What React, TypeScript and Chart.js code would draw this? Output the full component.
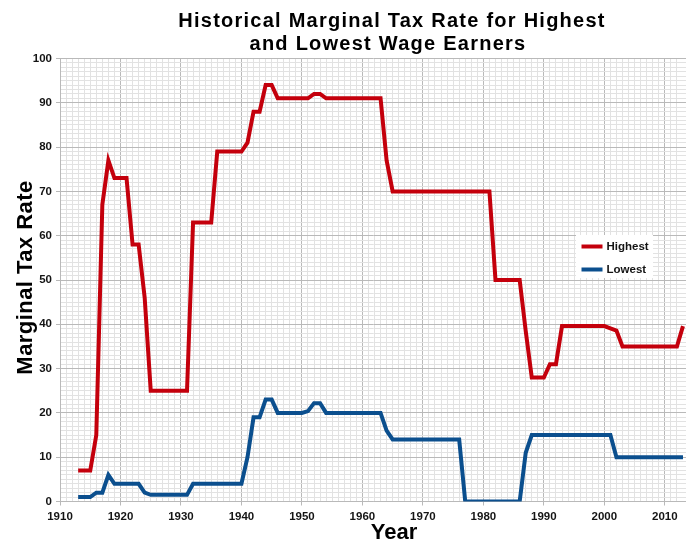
import React, { useEffect, useRef } from "react";
import { Chart, registerables } from "chart.js";

Chart.register(...registerables);

// ---------- data ----------
const years = [
  1913, 1914, 1915, 1916, 1917, 1918, 1919, 1920, 1921, 1922,
  1923, 1924, 1925, 1926, 1927, 1928, 1929, 1930, 1931, 1932,
  1933, 1934, 1935, 1936, 1937, 1938, 1939, 1940, 1941, 1942,
  1943, 1944, 1945, 1946, 1947, 1948, 1949, 1950, 1951, 1952,
  1953, 1954, 1955, 1956, 1957, 1958, 1959, 1960, 1961, 1962,
  1963, 1964, 1965, 1966, 1967, 1968, 1969, 1970, 1971, 1972,
  1973, 1974, 1975, 1976, 1977, 1978, 1979, 1980, 1981, 1982,
  1983, 1984, 1985, 1986, 1987, 1988, 1989, 1990, 1991, 1992,
  1993, 1994, 1995, 1996, 1997, 1998, 1999, 2000, 2001, 2002,
  2003, 2004, 2005, 2006, 2007, 2008, 2009, 2010, 2011, 2012,
  2013,
];

const highestRates = [
  7, 7, 7, 15, 67, 77, 73, 73, 73, 58,
  58, 46, 25, 25, 25, 25, 25, 25, 25, 63,
  63, 63, 63, 79, 79, 79, 79, 79, 81, 88,
  88, 94, 94, 91, 91, 91, 91, 91, 91, 92,
  92, 91, 91, 91, 91, 91, 91, 91, 91, 91,
  91, 77, 70, 70, 70, 70, 70, 70, 70, 70,
  70, 70, 70, 70, 70, 70, 70, 70, 70, 50,
  50, 50, 50, 50, 38.5, 28, 28, 28, 31, 31,
  39.6, 39.6, 39.6, 39.6, 39.6, 39.6, 39.6, 39.6, 39.1, 38.6,
  35, 35, 35, 35, 35, 35, 35, 35, 35, 35,
  39.6,
];

const lowestRates = [
  1, 1, 1, 2, 2, 6, 4, 4, 4, 4,
  4, 2, 1.5, 1.5, 1.5, 1.5, 1.5, 1.5, 1.5, 4,
  4, 4, 4, 4, 4, 4, 4, 4, 10, 19,
  19, 23, 23, 20, 20, 20, 20, 20, 20.4, 22.2,
  22.2, 20, 20, 20, 20, 20, 20, 20, 20, 20,
  20, 16, 14, 14, 14, 14, 14, 14, 14, 14,
  14, 14, 14, 14, 0, 0, 0, 0, 0, 0,
  0, 0, 0, 0, 11, 15, 15, 15, 15, 15,
  15, 15, 15, 15, 15, 15, 15, 15, 15, 10,
  10, 10, 10, 10, 10, 10, 10, 10, 10, 10,
  10,
];

const seriesLabels = ["Highest", "Lowest"];
const titleLines = [
  "Historical Marginal Tax Rate for Highest",
  "and Lowest Wage Earners",
];
const xAxisTitle = "Year";
const yAxisTitle = "Marginal Tax Rate";
const xRange = [1910, 2013.5];
const yRange = [0, 100];
const majorStep = 10;
const minorStep = 1;

// ---------- styles ----------
const FONT = '"Liberation Sans", Arial, sans-serif';
const RED = "#c4000c";
const BLUE = "#0b4f8e";
const MAJOR = "#b9b9b9";
const MINOR = "#e2e2e2";
const TEXT = "#141414";

const isMajor = (v: number) => Math.abs(v / majorStep - Math.round(v / majorStep)) < 1e-6;

const decorPlugin = {
  id: "decor",
  afterDraw(chart: any) {
    const { ctx, chartArea } = chart;
    ctx.save();
    // main title
    ctx.fillStyle = "#000";
    ctx.textAlign = "center";
    ctx.textBaseline = "alphabetic";
    ctx.font = `bold 20px ${FONT}`;
    (ctx as any).letterSpacing = "1.25px";
    ctx.fillText(titleLines[0], 392, 26.7);
    ctx.fillText(titleLines[1], 388, 50.3);
    // x axis title
    ctx.font = `bold 22px ${FONT}`;
    (ctx as any).letterSpacing = "0px";
    ctx.fillText(xAxisTitle, 394, 538.5);
    // y axis title
    ctx.save();
    ctx.translate(31.7, 277.5);
    ctx.rotate(-Math.PI / 2);
    ctx.font = `bold 22px ${FONT}`;
    (ctx as any).letterSpacing = "0.45px";
    ctx.fillText(yAxisTitle, 0, 0);
    ctx.restore();
    (ctx as any).letterSpacing = "0px";

    // legend
    const lx = chartArea.right - 110;
    const ly = chartArea.top + 176.5;
    ctx.fillStyle = "#ffffff";
    ctx.fillRect(lx, ly, 77, 43);
    const colors = [RED, BLUE];
    const rows = [11.5, 34.5];
    ctx.font = `bold 11.5px ${FONT}`;
    ctx.textAlign = "left";
    ctx.textBaseline = "middle";
    seriesLabels.forEach((label, i) => {
      const y = ly + rows[i];
      ctx.strokeStyle = colors[i];
      ctx.lineWidth = 4;
      ctx.beginPath();
      ctx.moveTo(lx + 5.5, y);
      ctx.lineTo(lx + 26.5, y);
      ctx.stroke();
      ctx.fillStyle = TEXT;
      ctx.fillText(label, lx + 30.5, y + 0.5);
    });
    ctx.restore();
  },
};

export default function App() {
  const canvasRef = useRef<HTMLCanvasElement | null>(null);

  useEffect(() => {
    if (!canvasRef.current) return;
    const gridColor = (c: any) => (c.tick && isMajor(c.tick.value) ? MAJOR : MINOR);
    const tickColor = (c: any) => (c.tick && isMajor(c.tick.value) ? MAJOR : "rgba(0,0,0,0)");
    const tickLabel = (v: any) => (isMajor(Number(v)) ? String(Math.round(Number(v))) : "");

    const chart = new Chart(canvasRef.current, {
      type: "line",
      data: {
        datasets: [
          {
            label: seriesLabels[0],
            data: years.map((yr, i) => ({ x: yr, y: highestRates[i] })),
            borderColor: RED,
            backgroundColor: RED,
            borderWidth: 4,
            pointRadius: 0,
            tension: 0,
            fill: false,
          },
          {
            label: seriesLabels[1],
            data: years.map((yr, i) => ({ x: yr, y: lowestRates[i] })),
            borderColor: BLUE,
            backgroundColor: BLUE,
            borderWidth: 4,
            pointRadius: 0,
            tension: 0,
            fill: false,
          },
        ],
      },
      options: {
        animation: false,
        responsive: false,
        events: [],
        layout: { padding: { top: 58.5, right: 0, left: 0, bottom: 0 } },
        plugins: {
          legend: { display: false },
          title: { display: false },
          tooltip: { enabled: false },
        },
        scales: {
          x: {
            type: "linear",
            min: xRange[0],
            max: xRange[1],
            afterFit: (s: any) => {
              s.height = 40.5;
              s.paddingLeft = 0;
              s.paddingRight = 0;
            },
            grid: { color: gridColor, tickColor, tickLength: 4, lineWidth: 1 },
            border: { display: true, color: MAJOR, width: 1 },
            ticks: {
              stepSize: minorStep,
              autoSkip: false,
              maxRotation: 0,
              minRotation: 0,
              padding: 4,
              color: TEXT,
              font: { family: FONT, size: 11.5, weight: "bold" },
              callback: tickLabel,
            },
          },
          y: {
            type: "linear",
            min: yRange[0],
            max: yRange[1],
            afterFit: (s: any) => {
              s.width = 60;
            },
            grid: { color: gridColor, tickColor, tickLength: 4, lineWidth: 1 },
            border: { display: true, color: MAJOR, width: 1 },
            ticks: {
              stepSize: minorStep,
              autoSkip: false,
              padding: 4,
              color: TEXT,
              font: { family: FONT, size: 11.5, weight: "bold" },
              callback: tickLabel,
            },
          },
        },
      },
      plugins: [decorPlugin],
    } as any);
    return () => chart.destroy();
  }, []);

  return (
    <div style={{ position: "fixed", left: 0, top: 0, width: 686, height: 542, background: "#fff" }}>
      <canvas ref={canvasRef} width={686} height={542} style={{ display: "block" }} />
    </div>
  );
}
